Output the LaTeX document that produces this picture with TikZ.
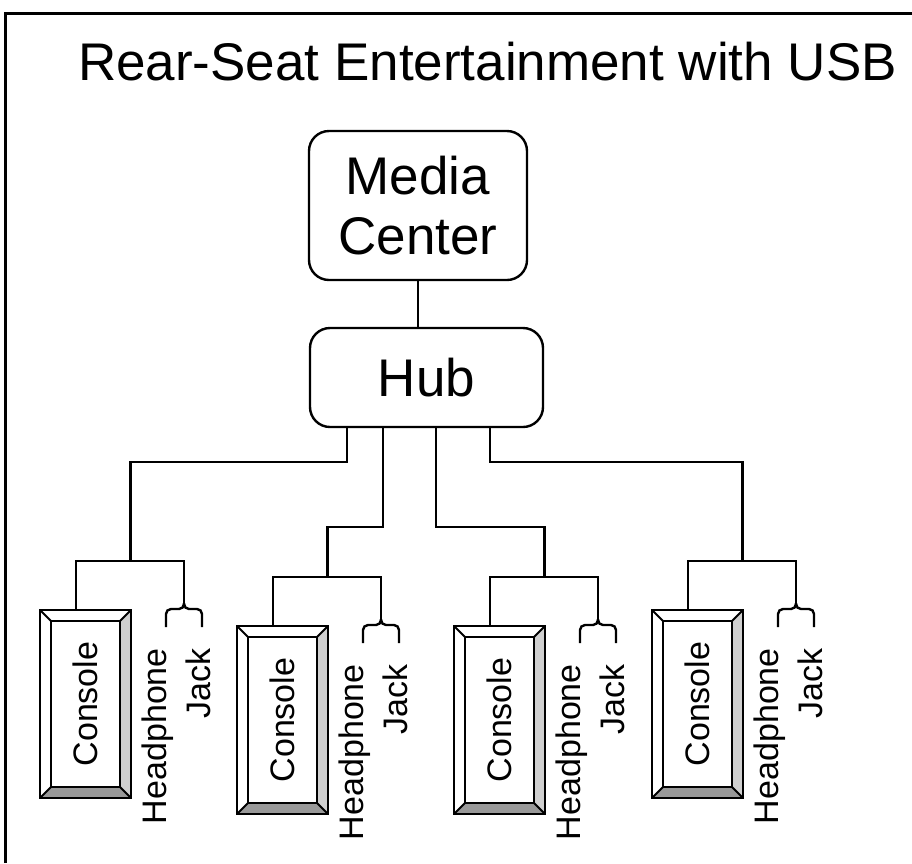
\documentclass[tikz,border=0pt]{standalone}
\usepackage{fontspec}
\setmainfont{Liberation Sans}
\definecolor{bevelright}{HTML}{CFCFCF}
\definecolor{bevelbottom}{HTML}{999999}
\begin{document}
\begin{tikzpicture}[x=1pt,y=-1pt,line width=2.4pt,
  box/.style={draw, rounded corners=20pt, line width=2.4pt, inner sep=0pt, outer sep=0pt, align=center,
    font=\fontsize{53}{60}\selectfont},
  conlabel/.style={rotate=90, inner sep=0pt, font=\fontsize{34}{40}\selectfont},
  jacklabel/.style={rotate=90, anchor=east, align=right, inner sep=0pt, font=\fontsize{34}{44}\selectfont},
  console/.style={draw, fill=white, line width=2.4pt, outer sep=0pt, inner sep=0pt,
    minimum width=91pt, minimum height=188pt,
    path picture={
      \fill[bevelright] (path picture bounding box.north east) -- (path picture bounding box.south east)
        -- ([shift={(-11pt,11pt)}]path picture bounding box.south east)
        -- ([shift={(-11pt,-11pt)}]path picture bounding box.north east) -- cycle;
      \fill[bevelbottom] (path picture bounding box.south west) -- (path picture bounding box.south east)
        -- ([shift={(-11pt,11pt)}]path picture bounding box.south east)
        -- ([shift={(11pt,11pt)}]path picture bounding box.south west) -- cycle;
      \draw[line width=2pt] ([shift={(11pt,11pt)}]path picture bounding box.south west)
        rectangle ([shift={(-11pt,-11pt)}]path picture bounding box.north east);
      \draw[line width=2pt] (path picture bounding box.south west) -- ([shift={(11pt,11pt)}]path picture bounding box.south west)
        (path picture bounding box.south east) -- ([shift={(-11pt,11pt)}]path picture bounding box.south east)
        (path picture bounding box.north east) -- ([shift={(-11pt,-11pt)}]path picture bounding box.north east)
        (path picture bounding box.north west) -- ([shift={(11pt,-11pt)}]path picture bounding box.north west);
    }},
  wire/.style={line width=2.4pt},
  brace/.style={line width=2.4pt, rounded corners=5pt}
]
\useasboundingbox (0,0) rectangle (912,863);
\fill[white] (0,0) rectangle (912,863);
\draw[line width=3pt] (5,863) -- (5,13) -- (912,13);

\node[anchor=base, inner sep=0pt, font=\fontsize{53}{60}\selectfont] (title) at (487.5,80) {Rear-Seat Entertainment with USB};

\node[box, minimum width=218pt, minimum height=149pt] (mc) at (418,205.5) {Media\\Center};
\node[box, minimum width=233pt, minimum height=99pt] (hub) at (426.5,377.5) {Hub};
\draw[wire] (mc.south) -- (mc.south |- hub.north);

\foreach \i/\L/\T in {1/40/610,2/237/626,3/454/626,4/652/610}{
  \node[console] (c\i) at (\L+45.5,\T+94) {};
  \node[conlabel] (ct\i) at (c\i) {Console};
  \coordinate (j\i) at (\L+144,\T-7);
  \coordinate (b\i) at (\L+90.5,\T-49);
  \draw[brace] (\L+126,\T+17) -- (\L+126,\T-1) -- (\L+144,\T-1) -- (j\i);
  \draw[brace] (\L+162,\T+17) -- (\L+162,\T-1) -- (\L+144,\T-1) -- (j\i);
  \draw[wire] ([xshift=-9.5pt]c\i.north) -- ++(0,-49) -| (j\i);
  \node[jacklabel] (hp\i) at (\L+136,\T+37) {Headphone\\Jack};
}

\draw[wire] ([xshift=-79.5pt]hub.south) -- ++(0,35) -| (b1);
\draw[wire] ([xshift=-43.5pt]hub.south) -- ++(0,100) -| (b2);
\draw[wire] ([xshift=9.5pt]hub.south) -- ++(0,100) -| (b3);
\draw[wire] ([xshift=63.5pt]hub.south) -- ++(0,35) -| (b4);
\end{tikzpicture}
\end{document}
